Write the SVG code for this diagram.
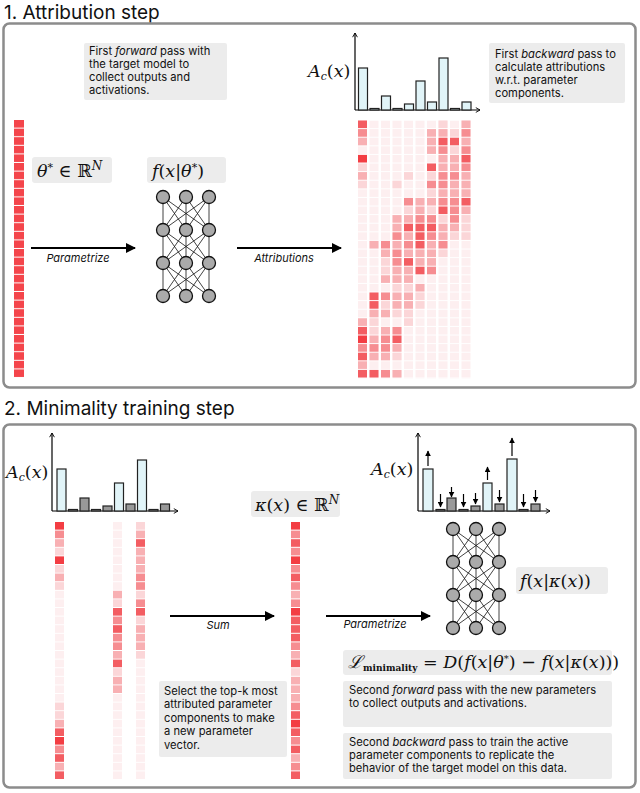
<svg xmlns="http://www.w3.org/2000/svg" xmlns:xlink="http://www.w3.org/1999/xlink" width="640" height="793" viewBox="0 0 640 793">
<style>
.panel{fill:#fff;stroke:#8c8c8c;stroke-width:2.5}
.title{font-family:Inter,"Liberation Sans",sans-serif;font-size:19px;fill:#111}
.box{fill:#ececec}
.t{font-family:Inter,"Liberation Sans",sans-serif;font-size:11.2px;fill:#111}
.lab{font-family:Inter,"Liberation Sans",sans-serif;font-size:11px;font-style:italic;fill:#111}
.m{font-family:"DejaVu Serif","Liberation Serif",serif;font-style:italic;font-size:17.5px;fill:#111}
.conn{stroke:#000;stroke-width:2;fill:none}
.ax{stroke:#000;stroke-width:1.2;fill:none}
.bl{fill:#e1f4f8;stroke:#222;stroke-width:1.2}
.bd{fill:#999;stroke:#222;stroke-width:1.2}
.l0{fill:#fdf2f3}.l1{fill:#fbd6d8}.l2{fill:#f8b0b3}.l3{fill:#f68d91}.l4{fill:#f35d62}.l5{fill:#f33d43}
.nl{stroke:#111;stroke-width:0.8}
.nn{fill:#aaa;stroke:#111;stroke-width:1.3}
.sa{stroke:#000;stroke-width:1.2}
</style>
<defs>
<marker id="ah" viewBox="0 0 10 10" refX="9" refY="5" markerWidth="6" markerHeight="6" markerUnits="userSpaceOnUse" orient="auto"><path d="M0,0L10,5L0,10z" fill="#000"/></marker>
<marker id="big" viewBox="0 0 10 10" refX="9" refY="5" markerWidth="10" markerHeight="10" markerUnits="userSpaceOnUse" orient="auto"><path d="M0,0L10,5L0,10z" fill="#000"/></marker>
<marker id="open" viewBox="0 0 10 10" refX="9" refY="5" markerWidth="6" markerHeight="6" markerUnits="userSpaceOnUse" orient="auto"><path d="M2,1L9,5L2,9" fill="none" stroke="#000" stroke-width="1.5"/></marker>
<pattern id="pf1" patternUnits="userSpaceOnUse" x="0" y="120.5" width="640" height="8.6"><rect width="640" height="7.6" fill="#fdeff0"/></pattern>
<pattern id="pf2" patternUnits="userSpaceOnUse" x="0" y="522" width="640" height="8.6"><rect width="640" height="7.6" fill="#fdeff0"/></pattern>
<pattern id="pr1" patternUnits="userSpaceOnUse" x="0" y="120" width="640" height="8.6"><rect width="640" height="7.6" fill="#f4454b"/></pattern>
<g id="net">
<g class="nl">
<path d="M0,0V99M23,0V99M46,0V99M0,0L23,33M0,0L46,33M23,0L0,33M23,0L46,33M46,0L0,33M46,0L23,33M0,33L23,66M0,33L46,66M23,33L0,66M23,33L46,66M46,33L0,66M46,33L23,66M0,66L23,99M0,66L46,99M23,66L0,99M23,66L46,99M46,66L0,99M46,66L23,99"/>
</g>
<g class="nn">
<circle cx="0" cy="0" r="6.5"/><circle cx="23" cy="0" r="6.5"/><circle cx="46" cy="0" r="6.5"/>
<circle cx="0" cy="33" r="6.5"/><circle cx="23" cy="33" r="6.5"/><circle cx="46" cy="33" r="6.5"/>
<circle cx="0" cy="66" r="6.5"/><circle cx="23" cy="66" r="6.5"/><circle cx="46" cy="66" r="6.5"/>
<circle cx="0" cy="99" r="6.5"/><circle cx="23" cy="99" r="6.5"/><circle cx="46" cy="99" r="6.5"/>
</g>
</g>
</defs>
<rect width="640" height="793" fill="#fff"/>

<!-- Panel 1 -->
<text class="title" x="4" y="18.5">1. Attribution step</text>
<rect class="panel" x="3.5" y="23.5" width="632" height="364" rx="6"/>

<g id="note1">
<rect class="box" x="84" y="43" width="143" height="57" rx="2"/>
<text class="t" x="89" y="55">First <tspan font-style="italic">forward</tspan> pass with</text>
<text class="t" x="89" y="68">the target model to</text>
<text class="t" x="89" y="81">collect outputs and</text>
<text class="t" x="89" y="94">activations.</text>
</g>

<g id="theta-vector">
<rect x="14" y="120" width="10" height="258" fill="url(#pr1)"/>
</g>

<g id="theta-label">
<rect class="box" x="32" y="157" width="80" height="26" rx="3"/>
<text class="m" x="37" y="177">θ<tspan dy="-6" font-size="11" font-style="normal">*</tspan><tspan dy="6" font-style="normal"> ∈ ℝ</tspan><tspan dy="-7" font-size="12">N</tspan></text>
</g>

<g id="model1">
<rect class="box" x="147" y="157" width="79" height="26" rx="3"/>
<text class="m" x="152" y="177">f<tspan font-style="normal">(</tspan>x<tspan font-style="normal">|</tspan>θ<tspan dy="-6" font-size="11" font-style="normal">*</tspan><tspan dy="6" font-style="normal">)</tspan></text>
<use xlink:href="#net" transform="translate(163,197)"/>
</g>

<g id="chart1">
<path class="ax" d="M355,110V33" marker-end="url(#open)"/>
<path class="ax" d="M355,110H480" marker-end="url(#open)"/>
<text class="m" x="308" y="77">A<tspan font-size="11" dy="3">c</tspan><tspan dy="-3" font-style="normal">(</tspan>x<tspan font-style="normal">)</tspan></text>
<rect class="bl" x="358.5" y="68" width="9" height="42"/>
<rect class="bl" x="370" y="108.5" width="9" height="1.5"/>
<rect class="bl" x="381.5" y="96" width="9" height="14"/>
<rect class="bl" x="393" y="108.5" width="9" height="1.5"/>
<rect class="bl" x="404.5" y="104" width="9" height="6"/>
<rect class="bl" x="416" y="81" width="9" height="29"/>
<rect class="bl" x="427.5" y="102" width="9" height="8"/>
<rect class="bl" x="439" y="58" width="9" height="52"/>
<rect class="bl" x="450.5" y="108.5" width="9" height="1.5"/>
<rect class="bl" x="462" y="102" width="9" height="8"/>
</g>

<g id="attribution-grid">
<g fill="url(#pf1)">
<rect x="358" y="120.5" width="9" height="258"/><rect x="369.5" y="120.5" width="9" height="258"/><rect x="381" y="120.5" width="9" height="258"/><rect x="392.5" y="120.5" width="9" height="258"/><rect x="404" y="120.5" width="9" height="258"/><rect x="415.5" y="120.5" width="9" height="258"/><rect x="427" y="120.5" width="9" height="258"/><rect x="438.5" y="120.5" width="9" height="258"/><rect x="450" y="120.5" width="9" height="258"/><rect x="461.5" y="120.5" width="9" height="258"/>
</g>
<g transform="translate(358,120.5)">
<rect class="l4" y="0" width="9" height="7.6"/><rect class="l3" y="8.6" width="9" height="7.6"/><rect class="l2" y="17.2" width="9" height="7.6"/><rect class="l5" y="34.4" width="9" height="7.6"/><rect class="l1" y="43" width="9" height="7.6"/><rect class="l2" y="51.6" width="9" height="7.6"/><rect class="l1" y="60.2" width="9" height="7.6"/><rect class="l2" y="197.8" width="9" height="7.6"/><rect class="l4" y="206.4" width="9" height="7.6"/><rect class="l5" y="215" width="9" height="7.6"/><rect class="l3" y="223.6" width="9" height="7.6"/><rect class="l4" y="232.2" width="9" height="7.6"/><rect class="l2" y="240.8" width="9" height="7.6"/><rect class="l4" y="249.4" width="9" height="7.6"/>
</g>
<g transform="translate(369.5,120.5)">
<rect class="l2" y="120.4" width="9" height="7.6"/><rect class="l4" y="172" width="9" height="7.6"/><rect class="l4" y="180.6" width="9" height="7.6"/><rect class="l2" y="189.2" width="9" height="7.6"/><rect class="l1" y="197.8" width="9" height="7.6"/><rect class="l1" y="206.4" width="9" height="7.6"/><rect class="l2" y="215" width="9" height="7.6"/><rect class="l3" y="223.6" width="9" height="7.6"/><rect class="l2" y="232.2" width="9" height="7.6"/><rect class="l4" y="249.4" width="9" height="7.6"/>
</g>
<g transform="translate(381,120.5)">
<rect class="l3" y="120.4" width="9" height="7.6"/><rect class="l2" y="129" width="9" height="7.6"/><rect class="l1" y="137.6" width="9" height="7.6"/><rect class="l1" y="146.2" width="9" height="7.6"/><rect class="l2" y="154.8" width="9" height="7.6"/><rect class="l3" y="172" width="9" height="7.6"/><rect class="l1" y="180.6" width="9" height="7.6"/><rect class="l2" y="189.2" width="9" height="7.6"/><rect class="l2" y="206.4" width="9" height="7.6"/><rect class="l3" y="215" width="9" height="7.6"/><rect class="l3" y="223.6" width="9" height="7.6"/><rect class="l2" y="232.2" width="9" height="7.6"/><rect class="l3" y="249.4" width="9" height="7.6"/>
</g>
<g transform="translate(392.5,120.5)">
<rect class="l1" y="60.2" width="9" height="7.6"/><rect class="l2" y="94.6" width="9" height="7.6"/><rect class="l2" y="103.2" width="9" height="7.6"/><rect class="l3" y="111.8" width="9" height="7.6"/><rect class="l2" y="120.4" width="9" height="7.6"/><rect class="l3" y="129" width="9" height="7.6"/><rect class="l3" y="137.6" width="9" height="7.6"/><rect class="l2" y="146.2" width="9" height="7.6"/><rect class="l2" y="154.8" width="9" height="7.6"/><rect class="l1" y="163.4" width="9" height="7.6"/><rect class="l2" y="172" width="9" height="7.6"/><rect class="l2" y="180.6" width="9" height="7.6"/><rect class="l1" y="189.2" width="9" height="7.6"/><rect class="l3" y="206.4" width="9" height="7.6"/><rect class="l4" y="215" width="9" height="7.6"/><rect class="l2" y="223.6" width="9" height="7.6"/><rect class="l1" y="232.2" width="9" height="7.6"/><rect class="l2" y="249.4" width="9" height="7.6"/>
</g>
<g transform="translate(404,120.5)">
<rect class="l1" y="51.6" width="9" height="7.6"/><rect class="l3" y="77.4" width="9" height="7.6"/><rect class="l1" y="86" width="9" height="7.6"/><rect class="l2" y="94.6" width="9" height="7.6"/><rect class="l4" y="103.2" width="9" height="7.6"/><rect class="l2" y="111.8" width="9" height="7.6"/><rect class="l3" y="120.4" width="9" height="7.6"/><rect class="l2" y="129" width="9" height="7.6"/><rect class="l4" y="137.6" width="9" height="7.6"/><rect class="l2" y="146.2" width="9" height="7.6"/><rect class="l2" y="154.8" width="9" height="7.6"/><rect class="l1" y="163.4" width="9" height="7.6"/><rect class="l2" y="172" width="9" height="7.6"/><rect class="l2" y="180.6" width="9" height="7.6"/><rect class="l1" y="189.2" width="9" height="7.6"/><rect class="l1" y="197.8" width="9" height="7.6"/>
</g>
<g transform="translate(415.5,120.5)">
<rect class="l2" y="77.4" width="9" height="7.6"/><rect class="l2" y="86" width="9" height="7.6"/><rect class="l3" y="94.6" width="9" height="7.6"/><rect class="l4" y="103.2" width="9" height="7.6"/><rect class="l4" y="111.8" width="9" height="7.6"/><rect class="l4" y="120.4" width="9" height="7.6"/><rect class="l2" y="129" width="9" height="7.6"/><rect class="l2" y="137.6" width="9" height="7.6"/><rect class="l4" y="146.2" width="9" height="7.6"/><rect class="l2" y="163.4" width="9" height="7.6"/><rect class="l1" y="172" width="9" height="7.6"/><rect class="l1" y="180.6" width="9" height="7.6"/>
</g>
<g transform="translate(427,120.5)">
<rect class="l2" y="8.6" width="9" height="7.6"/><rect class="l2" y="17.2" width="9" height="7.6"/><rect class="l2" y="25.8" width="9" height="7.6"/><rect class="l4" y="43" width="9" height="7.6"/><rect class="l1" y="51.6" width="9" height="7.6"/><rect class="l3" y="60.2" width="9" height="7.6"/><rect class="l1" y="68.8" width="9" height="7.6"/><rect class="l2" y="77.4" width="9" height="7.6"/><rect class="l1" y="86" width="9" height="7.6"/><rect class="l3" y="94.6" width="9" height="7.6"/><rect class="l4" y="103.2" width="9" height="7.6"/><rect class="l3" y="111.8" width="9" height="7.6"/><rect class="l2" y="120.4" width="9" height="7.6"/><rect class="l2" y="129" width="9" height="7.6"/><rect class="l2" y="137.6" width="9" height="7.6"/><rect class="l3" y="146.2" width="9" height="7.6"/>
</g>
<g transform="translate(438.5,120.5)">
<rect class="l1" y="0" width="9" height="7.6"/><rect class="l2" y="8.6" width="9" height="7.6"/><rect class="l4" y="17.2" width="9" height="7.6"/><rect class="l3" y="25.8" width="9" height="7.6"/><rect class="l2" y="34.4" width="9" height="7.6"/><rect class="l2" y="43" width="9" height="7.6"/><rect class="l3" y="51.6" width="9" height="7.6"/><rect class="l3" y="60.2" width="9" height="7.6"/><rect class="l2" y="68.8" width="9" height="7.6"/><rect class="l3" y="77.4" width="9" height="7.6"/><rect class="l4" y="86" width="9" height="7.6"/><rect class="l1" y="94.6" width="9" height="7.6"/><rect class="l2" y="103.2" width="9" height="7.6"/><rect class="l2" y="111.8" width="9" height="7.6"/><rect class="l3" y="120.4" width="9" height="7.6"/><rect class="l1" y="129" width="9" height="7.6"/>
</g>
<g transform="translate(450,120.5)">
<rect class="l1" y="8.6" width="9" height="7.6"/><rect class="l4" y="17.2" width="9" height="7.6"/><rect class="l1" y="25.8" width="9" height="7.6"/><rect class="l2" y="34.4" width="9" height="7.6"/><rect class="l2" y="43" width="9" height="7.6"/><rect class="l3" y="51.6" width="9" height="7.6"/><rect class="l2" y="60.2" width="9" height="7.6"/><rect class="l2" y="68.8" width="9" height="7.6"/><rect class="l3" y="77.4" width="9" height="7.6"/><rect class="l3" y="86" width="9" height="7.6"/><rect class="l3" y="94.6" width="9" height="7.6"/><rect class="l2" y="103.2" width="9" height="7.6"/><rect class="l1" y="111.8" width="9" height="7.6"/>
</g>
<g transform="translate(461.5,120.5)">
<rect class="l2" y="0" width="9" height="7.6"/><rect class="l3" y="8.6" width="9" height="7.6"/><rect class="l2" y="17.2" width="9" height="7.6"/><rect class="l3" y="25.8" width="9" height="7.6"/><rect class="l4" y="34.4" width="9" height="7.6"/><rect class="l3" y="43" width="9" height="7.6"/><rect class="l2" y="51.6" width="9" height="7.6"/><rect class="l2" y="60.2" width="9" height="7.6"/><rect class="l2" y="68.8" width="9" height="7.6"/><rect class="l4" y="77.4" width="9" height="7.6"/><rect class="l2" y="86" width="9" height="7.6"/><rect class="l1" y="94.6" width="9" height="7.6"/><rect class="l1" y="103.2" width="9" height="7.6"/><rect class="l1" y="111.8" width="9" height="7.6"/>
</g>
</g>

<g id="note2">
<rect class="box" x="489" y="43" width="136" height="60" rx="2"/>
<text class="t" x="495" y="58">First <tspan font-style="italic">backward</tspan> pass to</text>
<text class="t" x="495" y="71">calculate attributions</text>
<text class="t" x="495" y="84">w.r.t. parameter</text>
<text class="t" x="495" y="97">components.</text>
</g>

<!-- Panel 2 -->
<text class="title" x="4" y="415">2. Minimality training step</text>
<rect class="panel" x="3.5" y="424.5" width="632" height="363" rx="6"/>

<g id="chart2">
<path class="ax" d="M52,511V433" marker-end="url(#open)"/>
<path class="ax" d="M52,511H178" marker-end="url(#open)"/>
<text class="m" x="6" y="478">A<tspan font-size="11" dy="3">c</tspan><tspan dy="-3" font-style="normal">(</tspan>x<tspan font-style="normal">)</tspan></text>
<rect class="bl" x="57" y="469" width="9" height="42"/>
<rect class="bd" x="68.5" y="509.5" width="9" height="1.5"/>
<rect class="bd" x="80" y="498" width="9" height="13"/>
<rect class="bd" x="91.5" y="509.5" width="9" height="1.5"/>
<rect class="bd" x="103" y="506" width="9" height="5"/>
<rect class="bl" x="114.5" y="483" width="9" height="28"/>
<rect class="bd" x="126" y="504" width="9" height="7"/>
<rect class="bl" x="137.5" y="460" width="9" height="51"/>
<rect class="bd" x="149" y="509.5" width="9" height="1.5"/>
<rect class="bd" x="160.5" y="504" width="9" height="7"/>
</g>

<g id="topk-columns">
<g fill="url(#pf2)">
<rect x="55" y="522" width="9" height="258"/><rect x="113" y="522" width="9" height="258"/><rect x="136" y="522" width="9" height="258"/>
</g>
<g transform="translate(55,522)">
<rect class="l5" y="0" width="9" height="7.6"/><rect class="l3" y="8.6" width="9" height="7.6"/><rect class="l2" y="17.2" width="9" height="7.6"/><rect class="l1" y="25.8" width="9" height="7.6"/><rect class="l5" y="34.4" width="9" height="7.6"/><rect class="l1" y="43" width="9" height="7.6"/><rect class="l2" y="51.6" width="9" height="7.6"/><rect class="l1" y="60.2" width="9" height="7.6"/><rect class="l1" y="180.6" width="9" height="7.6"/><rect class="l1" y="189.2" width="9" height="7.6"/><rect class="l2" y="197.8" width="9" height="7.6"/><rect class="l4" y="206.4" width="9" height="7.6"/><rect class="l5" y="215" width="9" height="7.6"/><rect class="l3" y="223.6" width="9" height="7.6"/><rect class="l4" y="232.2" width="9" height="7.6"/><rect class="l2" y="240.8" width="9" height="7.6"/><rect class="l4" y="249.4" width="9" height="7.6"/>
</g>
<g transform="translate(113,522)">
<rect class="l2" y="68.8" width="9" height="7.6"/><rect class="l1" y="77.4" width="9" height="7.6"/><rect class="l4" y="86" width="9" height="7.6"/><rect class="l3" y="94.6" width="9" height="7.6"/><rect class="l4" y="103.2" width="9" height="7.6"/><rect class="l3" y="111.8" width="9" height="7.6"/><rect class="l3" y="120.4" width="9" height="7.6"/><rect class="l2" y="129" width="9" height="7.6"/><rect class="l4" y="137.6" width="9" height="7.6"/><rect class="l1" y="146.2" width="9" height="7.6"/><rect class="l2" y="154.8" width="9" height="7.6"/><rect class="l2" y="163.4" width="9" height="7.6"/>
</g>
<g transform="translate(136,522)">
<rect class="l1" y="0" width="9" height="7.6"/><rect class="l2" y="8.6" width="9" height="7.6"/><rect class="l4" y="17.2" width="9" height="7.6"/><rect class="l2" y="25.8" width="9" height="7.6"/><rect class="l2" y="34.4" width="9" height="7.6"/><rect class="l2" y="43" width="9" height="7.6"/><rect class="l3" y="51.6" width="9" height="7.6"/><rect class="l3" y="60.2" width="9" height="7.6"/><rect class="l1" y="68.8" width="9" height="7.6"/><rect class="l3" y="77.4" width="9" height="7.6"/><rect class="l4" y="86" width="9" height="7.6"/><rect class="l1" y="94.6" width="9" height="7.6"/><rect class="l2" y="103.2" width="9" height="7.6"/><rect class="l2" y="111.8" width="9" height="7.6"/><rect class="l2" y="120.4" width="9" height="7.6"/><rect class="l1" y="129" width="9" height="7.6"/>
</g>
</g>

<g id="note3">
<rect class="box" x="159" y="681" width="128" height="76" rx="2"/>
<text class="t" x="164" y="695">Select the top-k most</text>
<text class="t" x="164" y="708">attributed parameter</text>
<text class="t" x="164" y="722">components to make</text>
<text class="t" x="164" y="735">a new parameter</text>
<text class="t" x="164" y="749">vector.</text>
</g>

<g id="kappa-vector">
<rect class="box" x="251" y="491" width="89" height="26" rx="3"/>
<text class="m" x="255" y="511">κ<tspan font-style="normal">(</tspan>x<tspan font-style="normal">) ∈ ℝ</tspan><tspan dy="-7" font-size="12">N</tspan></text>
<g transform="translate(291,522)">
<rect class="l5" y="0" width="9" height="7.6"/><rect class="l3" y="8.6" width="9" height="7.6"/><rect class="l4" y="17.2" width="9" height="7.6"/><rect class="l3" y="25.8" width="9" height="7.6"/><rect class="l5" y="34.4" width="9" height="7.6"/><rect class="l3" y="43" width="9" height="7.6"/><rect class="l4" y="51.6" width="9" height="7.6"/><rect class="l3" y="60.2" width="9" height="7.6"/><rect class="l2" y="68.8" width="9" height="7.6"/><rect class="l3" y="77.4" width="9" height="7.6"/><rect class="l5" y="86" width="9" height="7.6"/><rect class="l4" y="94.6" width="9" height="7.6"/><rect class="l4" y="103.2" width="9" height="7.6"/><rect class="l4" y="111.8" width="9" height="7.6"/><rect class="l3" y="120.4" width="9" height="7.6"/><rect class="l2" y="129" width="9" height="7.6"/><rect class="l4" y="137.6" width="9" height="7.6"/><rect class="l1" y="146.2" width="9" height="7.6"/><rect class="l2" y="154.8" width="9" height="7.6"/><rect class="l2" y="163.4" width="9" height="7.6"/><rect class="l2" y="172" width="9" height="7.6"/><rect class="l3" y="180.6" width="9" height="7.6"/><rect class="l4" y="189.2" width="9" height="7.6"/><rect class="l5" y="197.8" width="9" height="7.6"/><rect class="l4" y="206.4" width="9" height="7.6"/><rect class="l3" y="215" width="9" height="7.6"/><rect class="l4" y="223.6" width="9" height="7.6"/><rect class="l2" y="232.2" width="9" height="7.6"/><rect class="l3" y="240.8" width="9" height="7.6"/><rect class="l4" y="249.4" width="9" height="7.6"/>
</g>
</g>

<g id="chart3">
<path class="ax" d="M418,511V433" marker-end="url(#open)"/>
<path class="ax" d="M418,511H550" marker-end="url(#open)"/>
<text class="m" x="371" y="475">A<tspan font-size="11" dy="3">c</tspan><tspan dy="-3" font-style="normal">(</tspan>x<tspan font-style="normal">)</tspan></text>
<rect class="bl" x="423" y="469" width="10" height="42"/>
<rect class="bd" x="436" y="509.5" width="9" height="1.5"/>
<rect class="bd" x="447" y="498" width="9" height="13"/>
<rect class="bd" x="459" y="509.5" width="9" height="1.5"/>
<rect class="bd" x="471" y="506" width="9" height="5"/>
<rect class="bl" x="483" y="483" width="9" height="28"/>
<rect class="bd" x="495" y="504" width="9" height="7"/>
<rect class="bl" x="507" y="459" width="10" height="52"/>
<rect class="bd" x="519" y="509.5" width="9" height="1.5"/>
<rect class="bd" x="531" y="504" width="9" height="7"/>
<g class="sa">
<path d="M428,466V451" marker-end="url(#ah)"/>
<path d="M487.5,480V467" marker-end="url(#ah)"/>
<path d="M512,456V438" marker-end="url(#ah)"/>
<path d="M440.5,494V507" marker-end="url(#ah)"/>
<path d="M451.5,487V497" marker-end="url(#ah)"/>
<path d="M463.5,494V507" marker-end="url(#ah)"/>
<path d="M475.5,493V504" marker-end="url(#ah)"/>
<path d="M499.5,490V502" marker-end="url(#ah)"/>
<path d="M523.5,494V507" marker-end="url(#ah)"/>
<path d="M535.5,490V502" marker-end="url(#ah)"/>
</g>
</g>

<g id="model2">
<use xlink:href="#net" transform="translate(453,529)"/>
<rect class="box" x="516" y="567" width="92" height="27" rx="3"/>
<text class="m" x="520" y="587">f<tspan font-style="normal">(</tspan>x<tspan font-style="normal">|</tspan>κ<tspan font-style="normal">(</tspan>x<tspan font-style="normal">))</tspan></text>
</g>

<g id="loss">
<rect class="box" x="343" y="650" width="269" height="25" rx="3"/>
<text class="m" x="348" y="668" font-size="16">ℒ<tspan font-size="9" font-style="normal" font-weight="bold" dy="3">minimality</tspan><tspan dy="-3" font-style="normal"> = </tspan>D<tspan font-style="normal">(</tspan>f<tspan font-style="normal">(</tspan>x<tspan font-style="normal">|</tspan>θ<tspan dy="-6" font-size="10" font-style="normal">*</tspan><tspan dy="6" font-style="normal">) − </tspan>f<tspan font-style="normal">(</tspan>x<tspan font-style="normal">|</tspan>κ<tspan font-style="normal">(</tspan>x<tspan font-style="normal">)))</tspan></text>
</g>

<g id="note4">
<rect class="box" x="343" y="681" width="269" height="46" rx="2"/>
<text class="t" x="349" y="694">Second <tspan font-style="italic">forward</tspan> pass with the new parameters</text>
<text class="t" x="349" y="707">to collect outputs and activations.</text>
</g>
<g id="note5">
<rect class="box" x="343" y="733" width="269" height="46" rx="2"/>
<text class="t" x="349" y="746">Second <tspan font-style="italic">backward</tspan> pass to train the active</text>
<text class="t" x="349" y="759">parameter components to replicate the</text>
<text class="t" x="349" y="772">behavior of the target model on this data.</text>
</g>

<g id="connectors">
<path class="conn" d="M31,248H135" marker-end="url(#big)"/>
<text class="lab" x="78" y="262" text-anchor="middle">Parametrize</text>
<path class="conn" d="M237,248H341" marker-end="url(#big)"/>
<text class="lab" x="284" y="262" text-anchor="middle">Attributions</text>
<path class="conn" d="M170,616H274" marker-end="url(#big)"/>
<text class="lab" x="218" y="629" text-anchor="middle">Sum</text>
<path class="conn" d="M326,616H430" marker-end="url(#big)"/>
<text class="lab" x="375" y="628" text-anchor="middle">Parametrize</text>
</g>
</svg>
